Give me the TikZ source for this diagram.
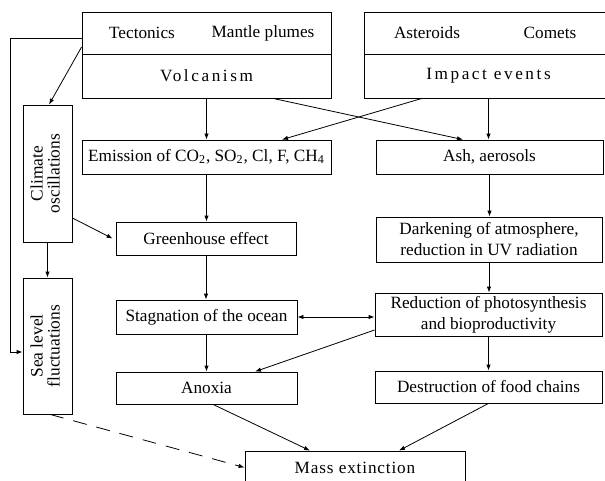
\documentclass[tikz,border=0pt]{standalone}
\usepackage{fontspec}
\setmainfont{Liberation Serif}
\usetikzlibrary{arrows.meta,calc}
\newcommand{\spaced}[2]{{\addfontfeatures{LetterSpace=#1}#2}}
\newcommand{\sidetext}[2]{\rotatebox{90}{\fontsize{8.7}{8}\selectfont
  \begin{tabular}{@{}c@{}}#1\\#2\end{tabular}}}

\begin{document}
\begin{tikzpicture}[x=0.5pt,y=-0.5pt,
    font=\fontsize{8.6}{10.5}\selectfont,
    line width=0.4pt,
    >={Latex[length=3pt,width=2.2pt]},
    box/.style={draw, inner sep=0pt, align=center}]
  \useasboundingbox (0,0) rectangle (605,481);
  % sources
  \node[box, minimum width=124.5pt, minimum height=21pt] (volcsrc) at (206.5,33) {};
  \node[box, minimum width=124.5pt, minimum height=22pt] (volc) at (206.5,76) {\spaced{15}{Volcanism}};
  \node (tect) at (142,33) {Tectonics};
  \node (plume) at (263,33) {Mantle plumes};
  \node[box, minimum width=124.5pt, minimum height=21pt] (impsrc) at (488.5,33) {};
  \node[box, minimum width=124.5pt, minimum height=22pt] (imp) at (488.5,76) {\spaced{15}{Impact events}};
  \node (aster) at (427,33) {Asteroids};
  \node (comet) at (550,33) {Comets};
  % left column
  \node[box, minimum width=24.5pt, minimum height=68.5pt] (clim) at (47.5,173.5) {\sidetext{Climate}{oscillations}};
  \node[box, minimum width=24.5pt, minimum height=68pt] (sea) at (47.5,346) {\sidetext{Sea level}{fluctuations}};
  % middle column
  \node[box, minimum width=124.5pt, minimum height=17pt] (emis) at (206.5,157)
    {Emission of CO\textsubscript{2}, SO\textsubscript{2}, Cl, F, CH\textsubscript{4}};
  \node[box, minimum width=90pt, minimum height=16.5pt] (green) at (206,238.5) {Greenhouse effect};
  \node[box, minimum width=90.5pt, minimum height=17pt] (stag) at (206.5,317) {Stagnation of the ocean};
  \node[box, minimum width=90.5pt, minimum height=16pt] (anox) at (206.5,388) {Anoxia};
  % right column
  \node[box, minimum width=113.5pt, minimum height=17pt] (ash) at (489.5,157) {Ash, aerosols};
  \node[box, minimum width=113pt, minimum height=22.5pt] (dark) at (489,239.5)
    {Darkening of atmosphere,\\reduction in UV radiation};
  \node[box, minimum width=113.5pt, minimum height=21.5pt] (reduc) at (488.5,314.5)
    {Reduction of photosynthesis\\and bioproductivity};
  \node[box, minimum width=113.5pt, minimum height=16pt] (destr) at (488.5,387) {Destruction of food chains};
  \node[box, minimum width=110pt, minimum height=16.5pt] (mass) at (355,467.5) {\spaced{5}{Mass extinction}};

  % connectors
  \draw[->] (volc.south) -- (emis.north);
  \draw[->] ($(volc.south)+(66.5,0)$) -- ($(ash.north)+(-26.5,0)$);
  \draw[->] ($(imp.south)+(-66.5,0)$) -- ($(emis.north)+(75.5,0)$);
  \draw[->] (imp.south) -- (imp.south |- ash.north);
  \draw[->] ($(volcsrc.west)+(0,14)$) -- ($(clim.north)+(1.5,0)$);
  \draw[->] ($(volcsrc.west)+(0,5)$) -- ++(-71,0) |- ($(sea.west)+(0,6)$);
  \draw[->] ($(clim.east)+(0,44.5)$) -- ($(green.west)+(-3,0)$);
  \draw[->] (clim.south) -- (sea.north);
  \draw[->] (emis.south) -- (emis.south |- green.north);
  \draw[->] (green.south) -- (green.south |- stag.north);
  \draw[->] (stag.south) -- (anox.north);
  \draw[->] (ash.south) -- (ash.south |- dark.north);
  \draw[->] (dark.south) -- (dark.south |- reduc.north);
  \draw[->] (reduc.south) -- (destr.north);
  \draw[<->] (stag.east) -- (stag.east -| reduc.west);
  \draw[->] ($(reduc.west)+(0,15.5)$) -- ($(anox.north)+(48.5,0)$);
  \draw[->] ($(anox.south)+(6.5,0)$) -- ($(mass.north)+(-45,0)$);
  \draw[->] (destr.south) -- ($(mass.north)+(44,0)$);
  \draw[->, dashed, dash pattern=on 7pt off 5pt] ($(sea.south)+(2.5,0)$) -- (mass.west);
\end{tikzpicture}
\end{document}
